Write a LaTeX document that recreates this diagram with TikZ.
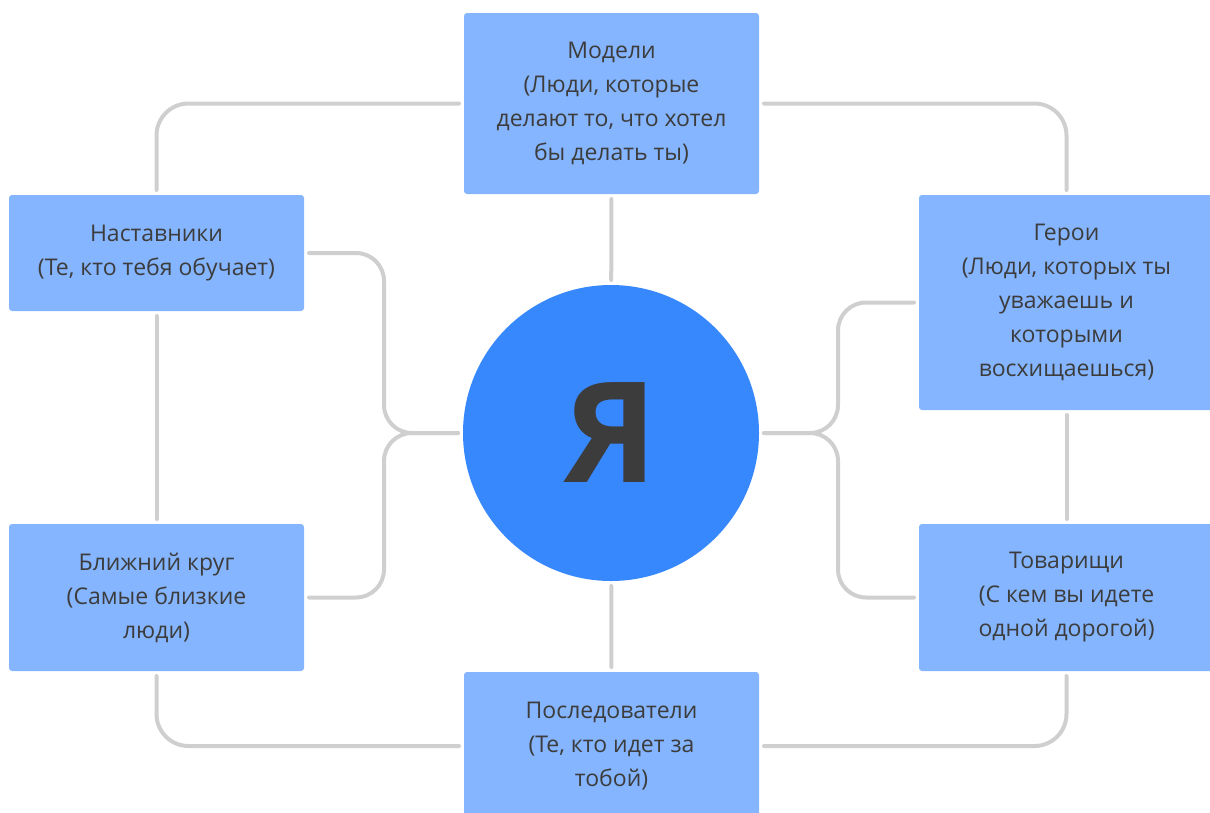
\documentclass[tikz,border=0pt]{standalone}
\usepackage{fontspec}
\setmainfont{Open Sans}
\usepackage{xcolor}
\definecolor{boxblue}{HTML}{85B5FE}
\definecolor{meblue}{HTML}{3888FD}
\definecolor{linegray}{HTML}{CFCFCF}
\definecolor{textgray}{HTML}{3C3C3C}
\tikzset{
  rolebox/.style={fill=boxblue, rounded corners=3pt, minimum width=295pt,
    align=center, text=textgray, font=\fontsize{23}{34}\selectfont,
    inner sep=0pt, outer sep=5pt},
  link/.style={draw=linegray, line width=4pt, line cap=round},
}

\begin{document}
\begin{tikzpicture}[x=1pt, y=-1pt]
  \useasboundingbox (0,0) rectangle (1210,812);
  \clip (0,0) rectangle (1210,812);
  \node[rolebox, minimum height=181pt] (model) at (611.5,103.5) {Модели\\(Люди, которые\\делают то, что хотел\\бы делать ты)};
  \node[rolebox, minimum height=116pt] (mentor) at (156.5,253) {Наставники\\(Те, кто тебя обучает)};
  \node[rolebox, minimum height=215pt] (hero) at (1066.5,302.5) {Герои\\(Люди, которых ты\\уважаешь и\\которыми\\восхищаешься)};
  \node[rolebox, minimum height=147pt] (inner) at (156.5,597.5) {Ближний круг\\(Самые близкие\\люди)};
  \node[rolebox, minimum height=147pt] (comrade) at (1066.5,597.5) {Товарищи\\(С кем вы идете\\одной дорогой)};
  \node[rolebox, minimum height=148pt] (follower) at (611.5,746) {Последователи\\(Те, кто идет за\\тобой)};
  \node[circle, fill=meblue, minimum size=296pt, inner sep=0pt, outer sep=5pt,
    text=textgray, font=\fontsize{140}{140}\bfseries\selectfont] (me) at (611,433) {Я};
  \coordinate (lj) at (384,433);
  \coordinate (rj) at (838,433);
  \draw[link] (model) -- (me);
  \draw[link] (me) -- (follower);
  \draw[link] (mentor) -- (inner);
  \draw[link] (hero.south) -- (comrade.north);
  \draw[link, rounded corners=32pt] (model.west) -| (mentor.north);
  \draw[link, rounded corners=32pt] (model.east) -| (hero.north);
  \draw[link, rounded corners=32pt] (inner.south) |- (follower.west);
  \draw[link, rounded corners=32pt] (comrade.south) |- (follower.east);
  \draw[link, rounded corners=28pt] (me.west) -- (lj) |- (mentor.east);
  \draw[link, rounded corners=28pt] (me.west) -- (lj) |- (inner.east);
  \draw[link, rounded corners=28pt] (me.east) -- (rj) |- (hero.west);
  \draw[link, rounded corners=28pt] (me.east) -- (rj) |- (comrade.west);
\end{tikzpicture}
\end{document}
